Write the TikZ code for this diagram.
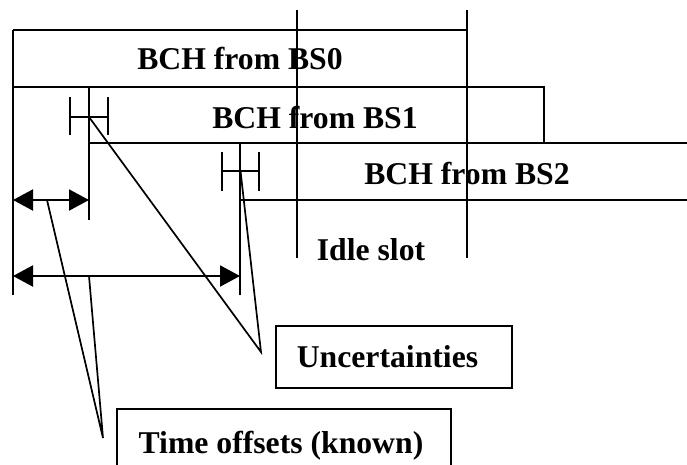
\documentclass[tikz,border=0pt]{standalone}
\usepackage{fontspec}
\setmainfont{Liberation Serif}
\usetikzlibrary{arrows.meta}
\begin{document}
\begin{tikzpicture}[x=1pt,y=-1pt,
  ln/.style={line width=2.1pt},
  thinln/.style={line width=1.7pt},
  lbl/.style={font=\fontsize{31.7}{38}\selectfont\bfseries, inner sep=0pt, anchor=base},
  dbl/.style={ln, {Triangle[length=20pt,width=21pt]}-{Triangle[length=20pt,width=21pt]}},
  frame/.style={draw, line width=2.1pt, inner sep=0pt}]
\useasboundingbox (0,0) rectangle (687,464);

% key points
\coordinate (tl) at (13,30);
\coordinate (lbot) at (13,295);
\coordinate (b0r) at (467,30);
\coordinate (r0) at (13,87);
\coordinate (r0e) at (544,87);
\coordinate (b1re) at (544,143);
\coordinate (b1l) at (89,143);
\coordinate (b1top) at (89,87);
\coordinate (b1bot) at (89,220);
\coordinate (b2r) at (687,143);
\coordinate (b2l) at (240,143);
\coordinate (b2lbot) at (240,295);
\coordinate (b2b) at (240,200);
\coordinate (b2be) at (687,200);
\coordinate (i1t) at (297,10);
\coordinate (i1b) at (297,258);
\coordinate (i2t) at (467,10);
\coordinate (i2b) at (467,258);

% BCH rows
\draw[ln] (tl) -- (b0r);
\draw[ln] (r0) -- (r0e) -- (b1re);
\draw[ln] (b1l) -- (b2r);
\draw[ln] (b2b) -- (b2be);
\draw[ln] (tl) -- (lbot);
\draw[ln] (b1top) -- (b1bot);
\draw[ln] (b2l) -- (b2lbot);
% idle slot lines
\draw[thinln] (i1t) -- (i1b);
\draw[ln] (i2t) -- (i2b);

% row labels
\node[lbl] (t0) at (240,69) {BCH from BS0};
\node[lbl] (t1) at (315,128) {BCH from BS1};
\node[lbl] (t2) at (467,184) {BCH from BS2};
\node[lbl] (tidle) at (371,260) {Idle slot};

% uncertainty markers
\coordinate (u1) at (89,117);
\coordinate (u2) at (240.5,171);
\draw[thinln] (70,97) -- (70,135);
\draw[thinln] (108,97) -- (108,135);
\draw[thinln] (70,117) -- (108,117);
\draw[thinln] (222,152) -- (222,191);
\draw[thinln] (259,152) -- (259,191);
\draw[thinln] (222,171) -- (259,171);

% time offset arrows
\coordinate (a1l) at (13,200);
\coordinate (a1r) at (89,200);
\coordinate (a2l) at (13,276);
\coordinate (a2r) at (240,276);
\draw[dbl] (a1l) -- (a1r);
\draw[dbl] (a2l) -- (a2r);

% callout boxes
\node[frame, minimum width=236pt, minimum height=62pt] (unc) at (394,357) {};
\node[lbl] (unctext) at (387.5,367) {Uncertainties};
\node[frame, minimum width=334pt, minimum height=70pt] (toff) at (284,444) {};
\node[lbl] (tofftext) at (281,453) {Time offsets (known)};

% callout lines
\coordinate (uc) at (261,352);
\coordinate (tc) at (103,438);
\coordinate (o1) at (47,200);
\coordinate (o2) at (89,276);
\draw[thinln] (u1) -- (uc) -- (u2);
\draw[thinln] (o1) -- (tc) -- (o2);
\end{tikzpicture}
\end{document}
